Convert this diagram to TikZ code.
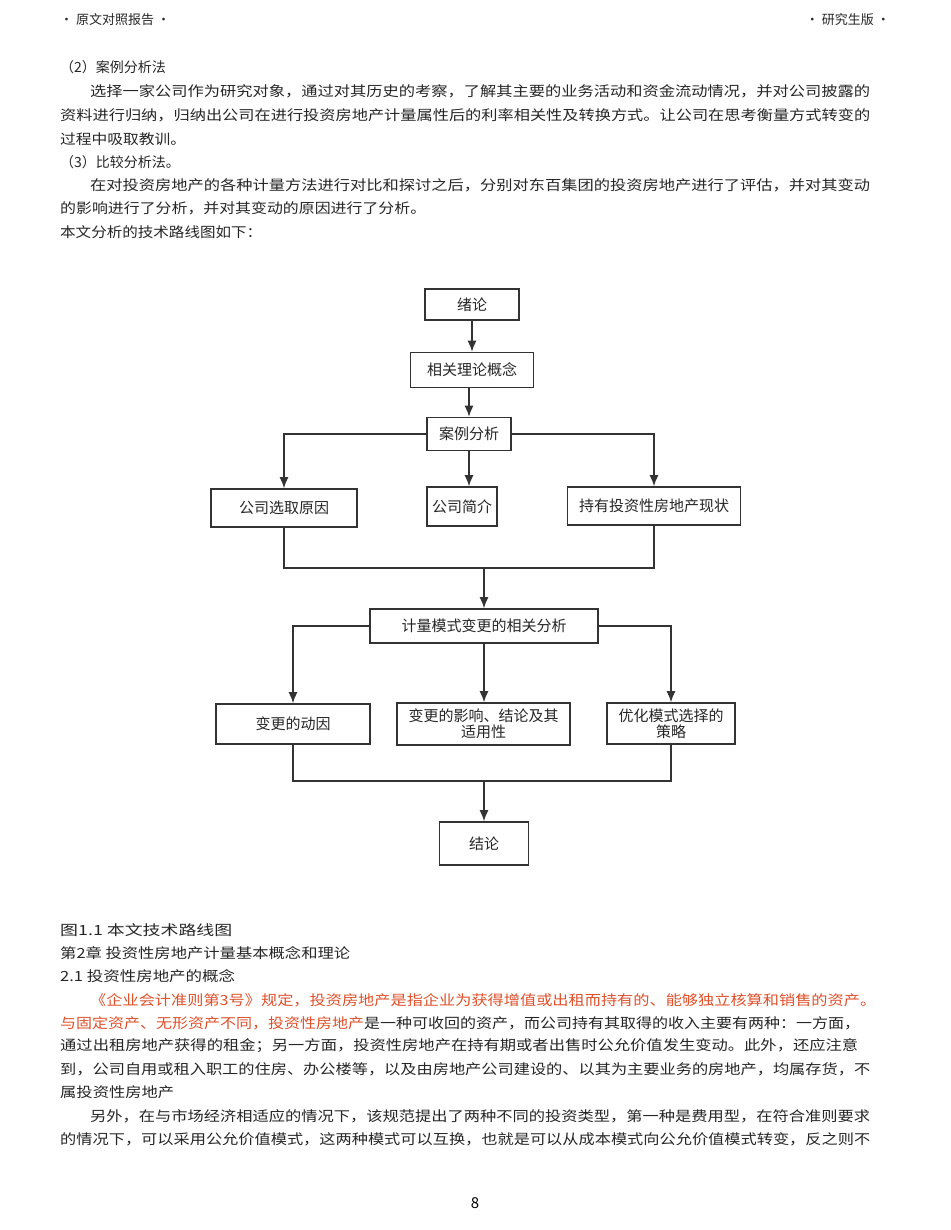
\documentclass[tikz,border=0pt]{standalone}
\usepackage{fontspec}
\usepackage{graphicx}
\usetikzlibrary{arrows.meta}
\setmainfont{Noto Sans CJK SC}
\definecolor{redt}{HTML}{E0502A}
\definecolor{boxc}{HTML}{333333}
\newcommand{\fl}[2]{\resizebox{#1pt}{\height}{#2}}
\begin{document}
\begin{tikzpicture}[x=1pt,y=-1pt,
  txt/.style={anchor=west,inner sep=0pt,font=\fontsize{14}{16}\selectfont,text=black!85},
  bx/.style={draw=boxc,line width=1.6pt,inner sep=2pt,font=\fontsize{15}{17}\selectfont,text=black!85,align=center},
  ar/.style={draw=boxc,line width=1.4pt,-{Latex[length=11pt,width=9pt]}},
  ln/.style={draw=boxc,line width=1.4pt}]
\useasboundingbox (0,0) rectangle (950,1230);
\fill[white] (0,0) rectangle (950,1230);
% header
\node[txt,font=\fontsize{13}{15}\selectfont] (h1) at (60,20) {• 原文对照报告 •};
\node[txt,anchor=east,font=\fontsize{13}{15}\selectfont] (h2) at (890,20) {• 研究生版 •};
% top text
\node[txt] (t1) at (60,67) {（2）案例分析法};
\node[txt] (t2) at (90,91) {\fl{780}{选择一家公司作为研究对象，通过对其历史的考察，了解其主要的业务活动和资金流动情况，并对公司披露的}};
\node[txt] (t3) at (60,115) {\fl{810}{资料进行归纳，归纳出公司在进行投资房地产计量属性后的利率相关性及转换方式。让公司在思考衡量方式转变的}};
\node[txt] (t4) at (60,139) {\fl{126}{过程中吸取教训。}};
\node[txt] (t5) at (60,162) {（3）比较分析法。};
\node[txt] (t6) at (90,185) {\fl{780}{在对投资房地产的各种计量方法进行对比和探讨之后，分别对东百集团的投资房地产进行了评估，并对其变动}};
\node[txt] (t7) at (60,208) {\fl{366}{的影响进行了分析，并对其变动的原因进行了分析。}};
\node[txt] (t8) at (60,232) {\fl{202}{本文分析的技术路线图如下：}};
% flowchart
\node[bx,minimum width=94pt,minimum height=31pt] (n1) at (472,304.5) {绪论};
\node[bx,minimum width=123pt,minimum height=35pt] (n2) at (472,370) {相关理论概念};
\node[bx,minimum width=84pt,minimum height=33pt] (c) at (469,434) {案例分析};
\node[bx,minimum width=146pt,minimum height=38pt] (a1) at (284,508) {公司选取原因};
\node[bx,minimum width=70pt,minimum height=39pt] (a2) at (462,506.5) {公司简介};
\node[bx,minimum width=173pt,minimum height=38pt] (a3) at (654,506) {持有投资性房地产现状};
\node[bx,minimum width=228pt,minimum height=34pt] (d) at (484,626) {计量模式变更的相关分析};
\node[bx,minimum width=154pt,minimum height=40pt] (b1) at (293,724) {变更的动因};
\node[bx,minimum width=173pt,minimum height=42pt,font=\fontsize{15}{16}\selectfont] (b2) at (483.5,724) {变更的影响、结论及其\\适用性};
\node[bx,minimum width=128pt,minimum height=41pt,font=\fontsize{15}{16}\selectfont] (b3) at (671,723.5) {优化模式选择的\\策略};
\node[bx,minimum width=89pt,minimum height=43pt] (e) at (484,843.5) {结论};
\coordinate (m) at (484,568);
\coordinate (n) at (484,781);
\draw[ar] (n1.south) -- (n1.south |- n2.north);
\draw[ar] (n2.south -| c.north) -- (c.north);
\draw[ar] (c.west) -| (a1.north);
\draw[ar] (c.south) -- (c.south |- a2.north);
\draw[ar] (c.east) -| (a3.north);
\draw[ln] (a1.south) |- (m) -| (a3.south);
\draw[ar] (m) -- (d.north);
\draw[ar] (d.west) -| (b1.north);
\draw[ar] (d.south) -- (d.south |- b2.north);
\draw[ar] (d.east) -| (b3.north);
\draw[ln] (b1.south) |- (n) -| (b3.south);
\draw[ar] (n) -- (e.north);
% bottom text
\node[txt] (u1) at (60,930) {\fl{172}{图1.1 本文技术路线图}};
\node[txt] (u2) at (60,953) {\fl{290}{第2章 投资性房地产计量基本概念和理论}};
\node[txt] (u3) at (60,976) {\fl{175}{2.1 投资性房地产的概念}};
\node[txt,text=redt] (u4) at (90,1000) {\fl{786}{《企业会计准则第3号》规定，投资房地产是指企业为获得增值或出租而持有的、能够独立核算和销售的资产。}};
\node[txt] (u5) at (60,1023) {\fl{800}{\textcolor{redt}{与固定资产、无形资产不同，投资性房地产}是一种可收回的资产，而公司持有其取得的收入主要有两种：一方面，}};
\node[txt] (u6) at (60,1046) {\fl{798}{通过出租房地产获得的租金；另一方面，投资性房地产在持有期或者出售时公允价值发生变动。此外，还应注意}};
\node[txt] (u7) at (60,1069) {\fl{810}{到，公司自用或租入职工的住房、办公楼等，以及由房地产公司建设的、以其为主要业务的房地产，均属存货，不}};
\node[txt] (u8) at (60,1092) {\fl{114}{属投资性房地产}};
\node[txt] (u9) at (90,1116) {\fl{780}{另外，在与市场经济相适应的情况下，该规范提出了两种不同的投资类型，第一种是费用型，在符合准则要求}};
\node[txt] (u10) at (60,1139) {\fl{810}{的情况下，可以采用公允价值模式，这两种模式可以互换，也就是可以从成本模式向公允价值模式转变，反之则不}};
\node[inner sep=0pt,font=\fontsize{15}{17}\selectfont] (pg) at (475,1203) {8};
\end{tikzpicture}
\end{document}
